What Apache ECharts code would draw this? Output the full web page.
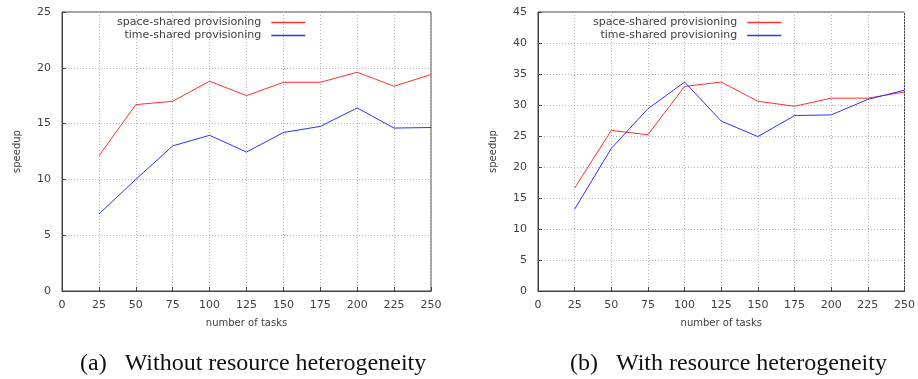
<!DOCTYPE html>
<html><head><meta charset="utf-8">
<script src="https://cdn.jsdelivr.net/npm/echarts@6/dist/echarts.min.js"></script>
<style>html,body{margin:0;padding:0;background:#fff}#c{width:918px;height:379px}</style>
</head><body><div id="c"></div>
<script>
const tasks = [25, 50, 75, 100, 125, 150, 175, 200, 225, 250];
const spaceA = [12.1, 16.7, 17.0, 18.8, 17.5, 18.7, 18.7, 19.6, 18.35, 19.4];
const timeA  = [6.9, 10.0, 13.0, 13.95, 12.45, 14.2, 14.75, 16.4, 14.6, 14.65];
const spaceB = [16.6, 25.9, 25.2, 33.0, 33.7, 30.6, 29.8, 31.1, 31.1, 32.1];
const timeB  = [13.2, 23.0, 29.4, 33.7, 27.4, 24.9, 28.3, 28.4, 30.9, 32.4];
const seriesNames = ['space-shared provisioning', 'time-shared provisioning'];
const captions = ['(a)   Without resource heterogeneity', '(b)   With resource heterogeneity'];
const xTicks = {min: 0, max: 250, interval: 25};
const yTicksA = {min: 0, max: 25, interval: 5};
const yTicksB = {min: 0, max: 45, interval: 5};

const txt = '#404040';
const font = 'DejaVu Sans';
const pairs = (xs, ys) => xs.map((x, i) => [x, ys[i]]);
function xAx(idx){
  return {type:'value', gridIndex:idx, min:xTicks.min, max:xTicks.max, interval:xTicks.interval,
    name:'number of tasks', nameLocation:'middle', nameGap:27,
    nameTextStyle:{color:txt, fontFamily:font, fontSize:10},
    axisLine:{lineStyle:{color:'#444', width:1}}, axisTick:{inside:true, length:4, lineStyle:{color:'#444'}},
    axisLabel:{color:txt, fontFamily:font, fontSize:11, margin:9},
    splitLine:{show:true, lineStyle:{color:'#b8b8b8', type:[1,2], width:1}}};
}
function yAx(idx, t){
  return {type:'value', gridIndex:idx, min:t.min, max:t.max, interval:t.interval,
    name:'speedup', nameLocation:'middle', nameGap:40,
    nameTextStyle:{color:txt, fontFamily:font, fontSize:10},
    axisLine:{show:true, lineStyle:{color:'#444', width:1}}, axisTick:{show:true, inside:true, length:4, lineStyle:{color:'#444'}},
    axisLabel:{color:txt, fontFamily:font, fontSize:11, margin:11},
    splitLine:{show:true, lineStyle:{color:'#b8b8b8', type:[1,2], width:1}}};
}
function ser(name, data, idx, color){
  return {type:'line', name:name, xAxisIndex:idx, yAxisIndex:idx, data:data, symbol:'none',
    lineStyle:{color:color, width:1}, itemStyle:{color:color}, animation:false};
}
function leg(left){
  return {left:left, top:12, orient:'vertical', align:'right', icon:'rect', itemWidth:34, itemHeight:1.5, itemGap:2,
    data:seriesNames, textStyle:{color:txt, fontFamily:font, fontSize:11, padding:[0,5,0,0]}, selectedMode:false};
}
const chart = echarts.init(document.getElementById('c'), null, {renderer:'canvas'});
chart.setOption({
  backgroundColor:'#fff',
  animation:false,
  grid:[
    {left:62, top:12, width:369, height:279, show:true, borderColor:'#444', borderWidth:1, backgroundColor:'transparent'},
    {left:538, top:12, width:369, height:279, show:true, borderColor:'#444', borderWidth:1, backgroundColor:'transparent'}
  ],
  xAxis:[xAx(0), xAx(1)],
  yAxis:[yAx(0, yTicksA), yAx(1, yTicksB)],
  legend:[leg(112), leg(588)],
  series:[
    ser(seriesNames[0], pairs(tasks, spaceA), 0, '#ff3030'),
    ser(seriesNames[1], pairs(tasks, timeA), 0, '#3030ff'),
    ser(seriesNames[0], pairs(tasks, spaceB), 1, '#ff3030'),
    ser(seriesNames[1], pairs(tasks, timeB), 1, '#3030ff')
  ],
  graphic:[
    {type:'text', left:80, top:352, style:{text:captions[0], font:'24px "Liberation Serif"', fill:'#111'}},
    {type:'text', left:570, top:352, style:{text:captions[1], font:'24px "Liberation Serif"', fill:'#111'}}
  ]
});
</script></body></html>
